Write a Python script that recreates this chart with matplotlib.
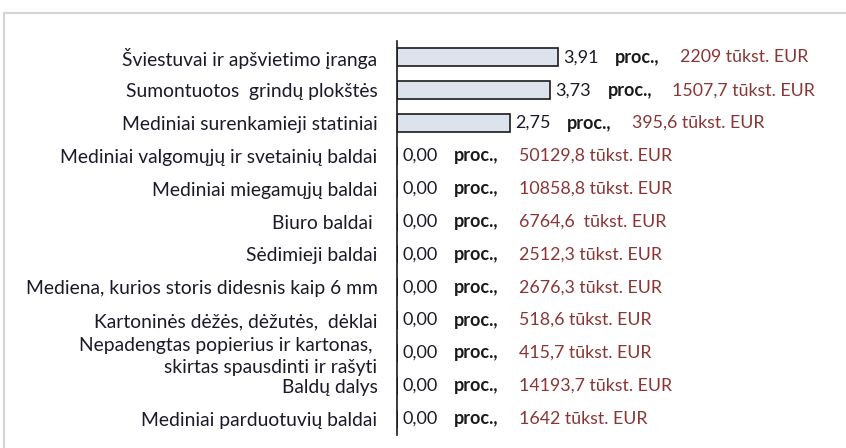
import matplotlib.pyplot as plt
from matplotlib.lines import Line2D

categories = [
    "Šviestuvai ir apšvietimo įranga",
    "Sumontuotos  grindų plokštės",
    "Mediniai surenkamieji statiniai",
    "Mediniai valgomųjų ir svetainių baldai",
    "Mediniai miegamųjų baldai",
    "Biuro baldai ",
    "Sėdimieji baldai",
    "Mediena, kurios storis didesnis kaip 6 mm",
    "Kartoninės dėžės, dėžutės,  dėklai",
    "Nepadengtas popierius ir kartonas, \nskirtas spausdinti ir rašyti",
    "Baldų dalys",
    "Mediniai parduotuvių baldai",
]
percent = [3.91, 3.73, 2.75, 0, 0, 0, 0, 0, 0, 0, 0, 0]
eur = ["2209", "1507,7", "395,6", "50129,8", "10858,8", "6764,6 ", "2512,3",
       "2676,3", "518,6", "415,7", "14193,7", "1642"]

plt.rcParams['font.family'] = ['Lato', 'DejaVu Sans']

fig = plt.figure(figsize=(8.46, 4.48), dpi=100)
ax = fig.add_axes([397 / 846, 1 - 435 / 448, 440 / 846, 394 / 448])

y = list(range(len(categories)))
ax.barh(y, percent, height=0.55, color='#dce3ec', edgecolor='#1a1a1a', linewidth=1.2)
ax.set_ylim(len(categories) - 0.5, -0.5)
ax.set_xlim(0, 10.7)

ax.set_yticks(y)
ax.set_yticklabels(categories, fontsize=13.9, color='#1a1a2a', linespacing=1.3)
ax.tick_params(axis='y', length=0, pad=14)
ax.set_xticks([])
for s in ['top', 'right', 'bottom']:
    ax.spines[s].set_visible(False)
ax.spines['left'].set_linewidth(1.2)
ax.spines['left'].set_color('#1a1a1a')

for i, (p, e) in enumerate(zip(percent, eur)):
    ax.annotate(f"{p:.2f}".replace('.', ','), (p, i), xytext=(5, 0), textcoords='offset pixels',
                va='center', ha='left', fontsize=13, color='#1a1a2a')
    ax.annotate("proc.,", (p, i), xytext=(57, 0), textcoords='offset pixels',
                va='center', ha='left', fontsize=13, fontweight='bold', color='#1a1a1a')
    ax.annotate(e + " tūkst. EUR", (p, i), xytext=(122, 0), textcoords='offset pixels',
                va='center', ha='left', fontsize=12.8, color='#8b3535')

# chart area border
fig.add_artist(Line2D([4 / 846, 1], [1 - 13 / 448] * 2, color='#d4d4d4', lw=1.5))
fig.add_artist(Line2D([4 / 846] * 2, [0, 1 - 13 / 448], color='#d4d4d4', lw=1.5))

fig.savefig('out.png', dpi=100, facecolor='white')
